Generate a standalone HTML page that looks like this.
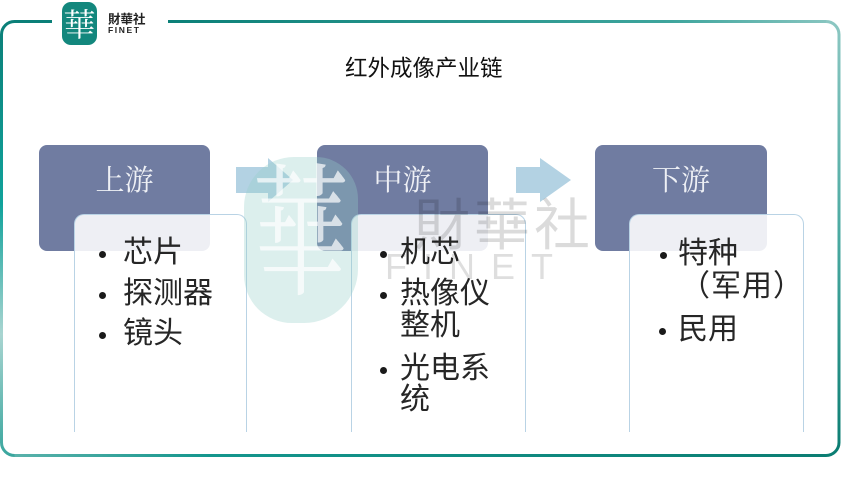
<!DOCTYPE html>
<html><head><meta charset="utf-8">
<style>
html,body{margin:0;padding:0;background:#fff;}
#wrap{position:relative;width:841px;height:478px;overflow:hidden;background:#fff;font-family:"Liberation Sans","Noto Sans CJK SC",sans-serif;}
.abs{position:absolute;white-space:nowrap;}
.hdr{position:absolute;background:#707ca1;border-radius:8px;height:106px;}
.hdr span{position:absolute;left:0;right:0;top:22px;text-align:center;font-family:"Liberation Serif","Noto Serif CJK SC",serif;font-size:29px;line-height:29px;color:#eef0f5;}
.box{position:absolute;top:214px;height:218px;border:1.5px solid #b9d3e5;border-bottom:none;border-radius:10px 10px 0 0;background:rgba(255,255,255,0.88);box-sizing:border-box;}
.t{position:absolute;white-space:nowrap;font-family:"Liberation Sans","Noto Sans CJK SC",sans-serif;font-size:30px;line-height:30px;color:#262626;}
.b{position:absolute;width:7px;height:7px;border-radius:50%;background:#1a1a1a;}
</style></head>
<body><div id="wrap">

<svg class="abs" style="left:0;top:0" width="841" height="478">
  <defs>
    <linearGradient id="gL" gradientUnits="userSpaceOnUse" x1="0" y1="21" x2="0" y2="456">
      <stop offset="0" stop-color="#0b7f78"/>
      <stop offset="0.42" stop-color="#10a29b"/>
      <stop offset="0.72" stop-color="#a9d5d1"/>
      <stop offset="1" stop-color="#3aa69e"/>
    </linearGradient>
    <linearGradient id="gB" gradientUnits="userSpaceOnUse" x1="0" y1="0" x2="841" y2="0">
      <stop offset="0" stop-color="#5fb4ad"/>
      <stop offset="0.25" stop-color="#14968d"/>
      <stop offset="1" stop-color="#0b7d72"/>
    </linearGradient>
    <linearGradient id="gR" gradientUnits="userSpaceOnUse" x1="0" y1="21" x2="0" y2="456">
      <stop offset="0" stop-color="#8cc7c2"/>
      <stop offset="0.5" stop-color="#4aa9a1"/>
      <stop offset="1" stop-color="#0b7d72"/>
    </linearGradient>
    <linearGradient id="gT" gradientUnits="userSpaceOnUse" x1="168" y1="0" x2="839" y2="0">
      <stop offset="0" stop-color="#0b8078"/>
      <stop offset="0.75" stop-color="#3ea59d"/>
      <stop offset="1" stop-color="#8cc7c2"/>
    </linearGradient>
  </defs>
  <path d="M52,21.5 H14.5 A13,13 0 0 0 1.5,34.5 V442.5 A13,13 0 0 0 14.5,455.5" fill="none" stroke="url(#gL)" stroke-width="3"/>
  <path d="M14.5,455.5 H826 A13,13 0 0 0 839,442.5" fill="none" stroke="url(#gB)" stroke-width="3"/>
  <path d="M839,442.5 V34.5 A13,13 0 0 0 826,21.5" fill="none" stroke="url(#gR)" stroke-width="3"/>
  <path d="M826,21.5 H168" fill="none" stroke="url(#gT)" stroke-width="3"/>
  <!-- logo -->
  <rect x="62" y="2" width="35" height="43" rx="9" fill="#13877d"/>
  <text x="79.5" y="36" text-anchor="middle" font-family="Liberation Serif, Noto Serif CJK TC, serif" font-size="32" fill="#ffffff">華</text>
  <text x="108" y="23.5" font-family="Liberation Sans, Noto Sans CJK TC, sans-serif" font-size="12.5" font-weight="bold" fill="#222">財華社</text>
  <text x="108" y="33" font-family="Liberation Sans, sans-serif" font-size="8.5" font-weight="bold" letter-spacing="1.6" fill="#222">FINET</text>
  <!-- arrows -->
  <polygon points="236,167 268,167 268,158 293,180 268,202 268,193 236,193" fill="#b3d2e3"/>
  <polygon points="516,167 540,167 540,158 571,180 540,202 540,193 516,193" fill="#b3d2e3"/>
</svg>

<div class="abs" style="left:345px;top:58px;font-family:'Liberation Sans','Noto Sans CJK SC',sans-serif;font-size:22.5px;line-height:22.5px;color:#111;">红外成像产业链</div>

<div class="hdr" style="left:39px;top:145px;width:171px;"><span>上游</span></div>
<div class="hdr" style="left:317px;top:145px;width:171px;"><span>中游</span></div>
<div class="hdr" style="left:595px;top:145px;width:172px;"><span>下游</span></div>

<div class="box" style="left:74px;width:173px;"></div>
<div class="box" style="left:351px;width:175px;"></div>
<div class="box" style="left:629px;width:175px;"></div>

<!-- left column -->
<div class="b" style="left:99px;top:251px;"></div>
<div class="t" style="left:123px;top:238px;">芯片</div>
<div class="b" style="left:99px;top:292px;"></div>
<div class="t" style="left:123px;top:279px;">探测器</div>
<div class="b" style="left:99px;top:332px;"></div>
<div class="t" style="left:123px;top:319px;">镜头</div>

<!-- middle column -->
<div class="b" style="left:380px;top:251px;"></div>
<div class="t" style="left:400px;top:238px;">机芯</div>
<div class="b" style="left:380px;top:292px;"></div>
<div class="t" style="left:400px;top:279px;">热像仪</div>
<div class="t" style="left:400px;top:311px;">整机</div>
<div class="b" style="left:380px;top:367px;"></div>
<div class="t" style="left:400px;top:354px;">光电系</div>
<div class="t" style="left:400px;top:385px;">统</div>

<!-- right column -->
<div class="b" style="left:660px;top:252px;"></div>
<div class="t" style="left:678px;top:239px;">特种</div>
<div class="t" style="left:680px;top:272px;letter-spacing:1px;">（军用）</div>
<div class="b" style="left:659px;top:328px;"></div>
<div class="t" style="left:678px;top:315px;">民用</div>

<!-- watermark -->
<div class="abs" style="left:244px;top:157px;width:114px;height:166px;border-radius:50px 42px 54px 48px;background:rgba(150,205,200,0.33);"></div>
<div class="abs" style="left:251px;top:164px;width:100px;text-align:center;font-family:'Liberation Serif','Noto Serif CJK TC',serif;font-size:96px;line-height:96px;color:rgba(255,255,255,0.7);transform:scaleY(1.5);transform-origin:50% 0;">華</div>
<div class="abs" style="left:414px;top:198px;font-family:'Liberation Sans','Noto Sans CJK TC',sans-serif;font-size:56px;line-height:56px;letter-spacing:4px;color:rgba(0,0,0,0.14);">財華社</div>
<div class="abs" style="left:385px;top:249px;font-family:'Liberation Sans',sans-serif;font-size:36px;line-height:36px;letter-spacing:16px;color:rgba(0,0,0,0.13);">FINET</div>

</div></body></html>
